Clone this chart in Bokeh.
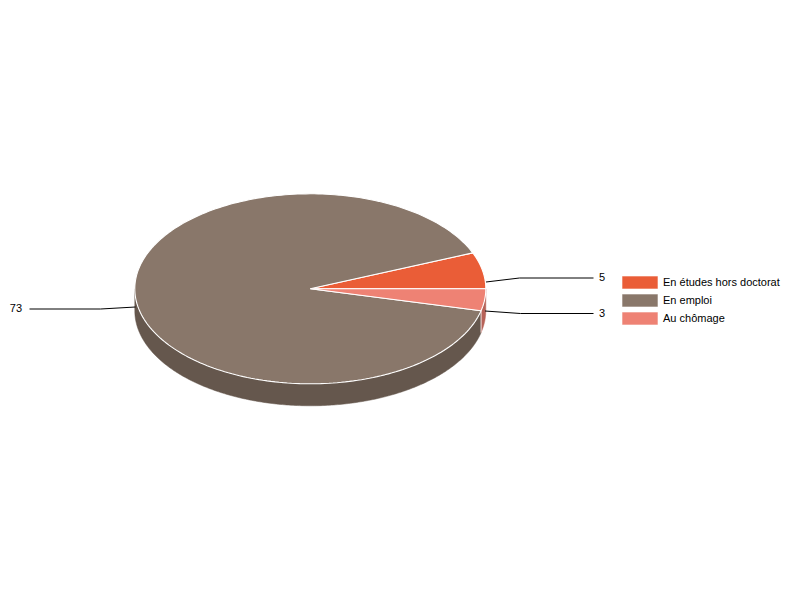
import numpy as np
from bokeh.plotting import figure
from bokeh.models import Range1d
from bokeh.core.properties import value
from bokeh.embed import file_html
from bokeh.resources import INLINE

categories = ["En études hors doctorat", "En emploi", "Au chômage"]
values = [5, 73, 3]
value_labels = ["5", "73", "3"]
colors = ["#EA5D37", "#89776A", "#EE8274"]
side_colors = ["#B04629", "#65574D", "#B66258"]

# layout in page pixels
CX, CY, RX, RY, DEPTH = 309.8, 288.3, 175.5, 95.0, 22.0
FONT = "Liberation Sans"

p = figure(width=784, height=584, output_backend="svg", toolbar_location=None,
           x_range=Range1d(0, 784), y_range=Range1d(584, 0),
           min_border=0, outline_line_color=None)
p.axis.visible = False
p.grid.visible = False
p.xaxis.visible = False
p.yaxis.visible = False


def rim(a0, a1, n=240, dy=0.0):
    t = np.radians(np.linspace(a0, a1, n))
    return CX + RX * np.cos(t), CY + dy - RY * np.sin(t)


total = sum(values)
sweeps = [v / total * 360.0 for v in values]
a_start = [0.0, sweeps[0], sweeps[0] + sweeps[1]]
a_end = [sweeps[0], sweeps[0] + sweeps[1], 360.0]

# extruded walls: only the front half of the rim can be seen
for i in (1, 2):
    a0, a1 = max(a_start[i], 180.0), a_end[i]
    xt, yt = rim(a0, a1)
    xb, yb = rim(a1, a0, dy=DEPTH)
    p.patch(np.r_[xt, xb], np.r_[yt, yb], fill_color=side_colors[i], line_color=side_colors[i], line_width=0.5)

# wall edge between the two front slices
xe, ye = rim(a_end[1], a_end[1], n=1)
p.line([xe[0], xe[0]], [ye[0], ye[0] + DEPTH], line_color="#FFFFFF", line_width=1, line_alpha=0.8)

# top face
for i in range(3):
    xs, ys = rim(a_start[i], a_end[i])
    p.patch(np.r_[CX, xs], np.r_[CY, ys], fill_color=colors[i], line_color="#FFFFFF", line_width=1.1)

# leader lines and value labels
leaders = [
    ([485.5, 519, 593], [281.5, 277.5, 277.5], 598.5, 276.7, "left"),
    ([135, 100, 29], [306.5, 308.5, 308.5], 21.5, 307.7, "right"),
    ([484.5, 520, 593], [310.5, 313, 313], 598.5, 312.7, "left"),
]
for i, (lx, ly, tx, ty, al) in enumerate(leaders):
    p.line(lx, ly, line_color="#000000", line_width=1)
    p.text([tx], [ty], text=[value_labels[i]], text_font=value(FONT), text_font_size="11px",
           text_color="#000000", text_align=al, text_baseline="middle")

# legend
for i, c in enumerate(categories):
    y0 = 276 + 18 * i
    p.quad(left=[622], right=[657], top=[y0], bottom=[y0 + 12], fill_color=colors[i],
           line_color=colors[i], line_alpha=0.4, line_width=1)
    p.text([662.5], [y0 + 5.7], text=[c], text_font=value(FONT), text_font_size="11px",
           text_color="#000000", text_align="left", text_baseline="middle")

open("out.html", "w").write(file_html(p, INLINE))
